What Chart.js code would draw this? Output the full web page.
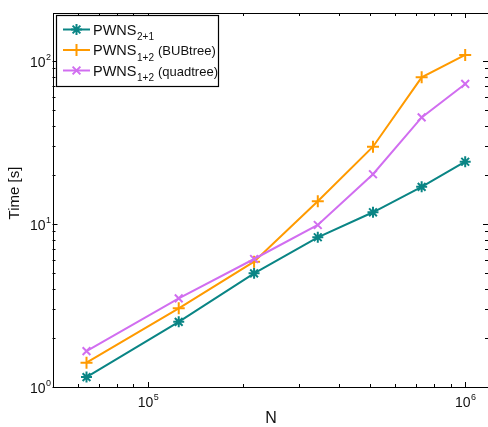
<!DOCTYPE html>
<html>
<head>
<meta charset="utf-8">
<script src="https://cdn.jsdelivr.net/npm/chart.js@4/dist/chart.umd.min.js"></script>
<style>
  html, body { margin: 0; padding: 0; background: #fff; overflow: hidden; }
</style>
</head>
<body>
<canvas id="timeChart" width="488" height="427"></canvas>
<script>
// problem sizes and measured times (seconds)
const N = [64000, 125000, 216000, 343000, 512000, 729000, 1000000];
const pwns21 = [1.15, 2.51, 4.98, 8.29, 11.8, 16.9, 24.1];
const pwnsBub = [1.41, 3.04, 5.87, 13.8, 29.8, 79.4, 109];
const pwnsQuad = [1.66, 3.50, 6.10, 9.86, 20.2, 45.1, 72.3];

const xDecades = [1e5, 1e6];
const yDecades = [1, 10, 100];

const teal = '#0a8585';
const orange = '#ff9a00';
const violet = '#d16ef0';
const FONT = '"Liberation Sans", Arial, Helvetica, sans-serif';

const toPoints = ys => N.map((n, i) => ({ x: n, y: ys[i] }));

// 10 with a raised exponent
function drawPower(ctx, exp, x, y, align) {
    ctx.font = '14px ' + FONT;
    const w1 = ctx.measureText('10').width;
    ctx.font = '9px ' + FONT;
    const w2 = ctx.measureText(String(exp)).width;
    let left = x;
    if (align === 'center') left = x - (w1 + w2) / 2;
    if (align === 'right') left = x - w1 - w2;
    ctx.textAlign = 'left';
    ctx.textBaseline = 'alphabetic';
    ctx.font = '14px ' + FONT;
    ctx.fillText('10', left, y);
    ctx.font = '9px ' + FONT;
    ctx.fillText(String(exp), left + w1 + 0.5, y - 7);
}

const framePlugin = {
    id: 'frame',
    afterDatasetsDraw(chart) {
        const ctx = chart.ctx;
        const a = chart.chartArea;
        const xs = chart.scales.x;
        const ys = chart.scales.y;
        ctx.save();
        ctx.strokeStyle = '#000';
        ctx.fillStyle = '#000';
        ctx.lineWidth = 1;

        // box (right side falls just outside the canvas)
        ctx.beginPath();
        ctx.rect(Math.round(a.left) + 0.5, Math.round(a.top) + 0.5,
            Math.round(a.right - a.left), Math.round(a.bottom - a.top));
        ctx.stroke();

        // x ticks (inward, top and bottom)
        ctx.beginPath();
        for (let d = 1e4; d <= 1e6; d *= 10) {
            for (let m = 1; m < 10; m++) {
                const v = d * m;
                if (v < xs.min || v > xs.max) continue;
                const px = Math.round(xs.getPixelForValue(v)) + 0.5;
                const len = m === 1 ? 5 : 3;
                ctx.moveTo(px, a.bottom); ctx.lineTo(px, a.bottom - len);
                ctx.moveTo(px, a.top); ctx.lineTo(px, a.top + len);
            }
        }
        // y ticks (inward, left and right)
        for (let d = 1; d <= 100; d *= 10) {
            for (let m = 1; m < 10; m++) {
                const v = d * m;
                if (v < ys.min || v > ys.max) continue;
                const py = Math.round(ys.getPixelForValue(v)) + 0.5;
                const len = m === 1 ? 5 : 3;
                ctx.moveTo(a.left, py); ctx.lineTo(a.left + len, py);
                ctx.moveTo(a.right, py); ctx.lineTo(a.right - len, py);
            }
        }
        ctx.stroke();

        // tick labels
        ctx.fillStyle = '#111';
        xDecades.forEach(v => {
            drawPower(ctx, Math.round(Math.log10(v)), xs.getPixelForValue(v), a.bottom + 20, 'center');
        });
        yDecades.forEach(v => {
            drawPower(ctx, Math.round(Math.log10(v)), a.left - 2, ys.getPixelForValue(v) + 6, 'right');
        });

        // axis titles
        ctx.font = '16px ' + FONT;
        ctx.textAlign = 'center';
        ctx.textBaseline = 'middle';
        ctx.fillText('N', 271, 419);
        ctx.save();
        ctx.translate(15, 193);
        ctx.rotate(-Math.PI / 2);
        ctx.font = '15px ' + FONT;
        ctx.fillText('Time [s]', 0, 0);
        ctx.restore();

        // legend
        const bx = 56.5, by = 15.5, bw = 162, bh = 71;
        ctx.fillStyle = '#fff';
        ctx.fillRect(bx, by, bw, bh);
        ctx.strokeStyle = '#000';
        ctx.lineWidth = 1.2;
        ctx.strokeRect(bx, by, bw, bh);
        const rows = [
            { ds: 0, y: 29.5, sub: '2+1', rest: '' },
            { ds: 1, y: 50, sub: '1+2', rest: '(BUBtree)' },
            { ds: 2, y: 70.5, sub: '1+2', rest: '(quadtree)' }
        ];
        rows.forEach(r => {
            const ds = chart.data.datasets[r.ds];
            ctx.strokeStyle = ds.borderColor;
            ctx.fillStyle = ds.borderColor;
            ctx.lineWidth = 2;
            ctx.beginPath();
            ctx.moveTo(63, r.y); ctx.lineTo(90, r.y);
            ctx.stroke();
            Chart.helpers.drawPoint(ctx, {
                pointStyle: ds.pointStyle, radius: ds.pointRadius,
                borderWidth: ds.pointBorderWidth, rotation: 0
            }, 76.5, r.y);
            ctx.fillStyle = '#111';
            ctx.textAlign = 'left';
            ctx.textBaseline = 'alphabetic';
            ctx.font = '14.5px ' + FONT;
            ctx.fillText('PWNS', 93, r.y + 5);
            const w = ctx.measureText('PWNS').width;
            ctx.font = '10px ' + FONT;
            ctx.fillText(r.sub, 93 + w + 0.5, r.y + 10.5);
            if (r.rest) {
                ctx.font = '13px ' + FONT;
                ctx.fillText(r.rest, 158, r.y + 5);
            }
        });
        ctx.restore();
    }
};

const ctx = document.getElementById('timeChart').getContext('2d');
new Chart(ctx, {
    type: 'line',
    data: {
        datasets: [
            {
                label: 'PWNS 2+1',
                data: toPoints(pwns21),
                borderColor: teal,
                backgroundColor: teal,
                borderWidth: 2,
                pointStyle: 'star',
                pointRadius: 5.5,
                pointBorderWidth: 2,
                order: 3
            },
            {
                label: 'PWNS 1+2 (BUBtree)',
                data: toPoints(pwnsBub),
                borderColor: orange,
                backgroundColor: orange,
                borderWidth: 2,
                pointStyle: 'cross',
                pointRadius: 6,
                pointBorderWidth: 2,
                order: 2
            },
            {
                label: 'PWNS 1+2 (quadtree)',
                data: toPoints(pwnsQuad),
                borderColor: violet,
                backgroundColor: violet,
                borderWidth: 2,
                pointStyle: 'crossRot',
                pointRadius: 5.5,
                pointBorderWidth: 2,
                order: 1
            }
        ]
    },
    options: {
        responsive: false,
        animation: false,
        layout: { autoPadding: false, padding: { left: 52.5, top: 13, right: -2, bottom: 40 } },
        plugins: {
            legend: { display: false },
            tooltip: { enabled: false }
        },
        scales: {
            x: { type: 'logarithmic', min: 50000, max: 1180000, display: false },
            y: { type: 'logarithmic', min: 1, max: 197, display: false }
        }
    },
    plugins: [framePlugin]
});
</script>
</body>
</html>
